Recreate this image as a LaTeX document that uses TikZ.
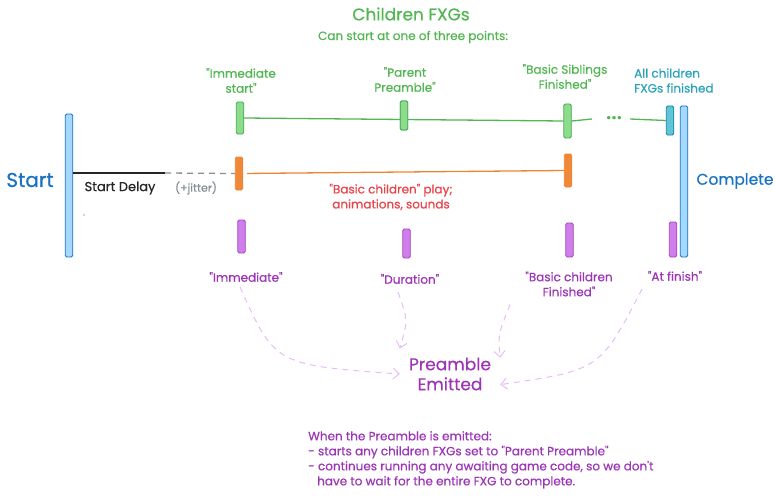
\documentclass[tikz,border=0pt]{standalone}
\usepackage{fontspec}
\setmainfont{Poppins}[Ligatures=TeXOff, FakeBold=0.6]
\usepackage{tikz}
\usetikzlibrary{arrows.meta, positioning, calc}
\definecolor{blueFg}{HTML}{1971C2}
\definecolor{blueBg}{HTML}{A5D8FF}
\definecolor{greenFg}{HTML}{40A952}
\definecolor{greenBg}{HTML}{8CDC8C}
\definecolor{greenText}{HTML}{52B752}
\definecolor{tealFg}{HTML}{0C8599}
\definecolor{tealBg}{HTML}{62C4D8}
\definecolor{tealText}{HTML}{2AA2BA}
\definecolor{orangeFg}{HTML}{EE8432}
\definecolor{orangeBg}{HTML}{F0883A}
\definecolor{redText}{HTML}{E8444A}
\definecolor{purpleFg}{HTML}{A643C2}
\definecolor{purpleBg}{HTML}{CF7EEB}
\definecolor{purpleText}{HTML}{9C36B5}
\definecolor{arrowPurple}{HTML}{E6BDF6}
\definecolor{jitterGray}{HTML}{868E96}
\tikzstyle{line} = [line width=1.3pt]
\tikzstyle{arrow} = [line width=1pt, dash pattern=on 6pt off 5pt, draw=arrowPurple, -{Straight Barb[length=6pt,width=11pt]}]
\tikzstyle{bar} = [rectangle, rounded corners=1.5pt, minimum width=7.5pt, inner sep=0pt, line width=0.9pt]
\tikzstyle{bluestyle} = [draw=blueFg, fill=blueBg]
\tikzstyle{greenstyle} = [draw=greenFg, fill=greenBg]
\tikzstyle{tealstyle} = [draw=tealFg, fill=tealBg]
\tikzstyle{orangestyle} = [draw=orangeFg, fill=orangeBg]
\tikzstyle{purplestyle} = [draw=purpleFg, fill=purpleBg]
\tikzstyle{txt} = [font=\fontsize{12}{15}\selectfont, align=center, inner sep=0pt]
\tikzstyle{bigtxt} = [font=\fontsize{17}{20}\selectfont, align=center, inner sep=0pt]

\begin{document}
\begin{tikzpicture}[x=1pt, y=-1pt]
\useasboundingbox (0,0) rectangle (775,500);

% start / complete
\node (startBar) [bar, bluestyle, minimum height=143pt] at (69,185.5) {};
\node (completeBar) [bar, bluestyle, minimum height=151pt] at (684,181.5) {};
\node (startLbl) [bigtxt, text=blueFg, font=\fontsize{20}{22}\selectfont] at (30,180) {Start};
\node (completeLbl) [bigtxt, text=blueFg, font=\fontsize{15.5}{18}\selectfont] at (735,181) {Complete};

% children rows
\node (immStart) [bar, greenstyle, minimum height=32pt] at (240,118) {};
\node (parentPre) [bar, greenstyle, minimum height=29pt] at (404,115.5) {};
\node (sibDone) [bar, greenstyle, minimum height=34pt] at (567.5,121) {};
\node (allDone) [bar, tealstyle, minimum height=29pt] at (670,120.5) {};

\node (playStart) [bar, orangestyle, minimum height=33pt] at (239,173.5) {};
\node (playEnd) [bar, orangestyle, minimum height=33pt] at (568,170.5) {};

\node (pImm) [bar, purplestyle, minimum height=33pt] at (241.5,236.5) {};
\node (pDur) [bar, purplestyle, minimum height=29pt] at (406.5,243.5) {};
\node (pBasic) [bar, purplestyle, minimum height=34pt] at (569.5,240) {};
\node (pFin) [bar, purplestyle, minimum height=35pt] at (673,239.5) {};

% titles
\node (title) [bigtxt, text=greenText] at (411,14) {Children FXGs};
\node (subtitle) [txt, text=greenText] at (413,37) {Can start at one of three points:};

\node (immStartLbl) [txt, text=greenText] at (241,80.5) {"Immediate\\start"};
\node (parentPreLbl) [txt, text=greenText] at (405,79.5) {"Parent\\Preamble"};
\node (sibDoneLbl) [txt, text=greenText] at (565,76.5) {"Basic Siblings\\Finished"};
\node (allDoneLbl) [txt, text=tealText, align=left, anchor=west] at (634,80.5) {All children\\FXGs finished};

% green timeline
\coordinate (stubEnd) at (592,119);
\node (dots) [txt, text=greenText, font=\fontsize{13}{13}\selectfont] at (614,119) {\textbullet\textbullet\textbullet};
\draw [line, draw=greenText] (immStart.east) -- (sibDone.west);
\draw [line, draw=greenText] (sibDone.east) -- (stubEnd);
\draw [line, draw=greenText] ($(dots.east)+(8,0)$) -- (allDone.west);
\node (parentPreTop) [bar, greenstyle, minimum height=29pt] at (parentPre) {};

% start delay
\coordinate (delayEnd) at (165,173);
\draw [line, draw=black!85] (delayEnd -| startBar.east) -- (delayEnd);
\draw [line, draw=jitterGray, dash pattern=on 6pt off 5pt] (delayEnd) -- (playStart.west);
\node (delayLbl) [txt, text=black!85, font=\fontsize{13}{15}\selectfont] at (120,188) {Start Delay};
\node (jitterLbl) [txt, text=jitterGray, font=\fontsize{11}{13}\selectfont] at (196,188) {(+jitter)};
\node (stray) [txt, text=black!60, font=\fontsize{8}{8}\selectfont] at (84,215) {.};

% basic children play
\draw [line, draw=orangeFg, shorten <=4pt] (playStart.east) -- (playEnd.west);
\node (playLbl) [txt, text=redText] at (391,197) {"Basic children" play;\\animations, sounds};

% preamble points
\node (pImmLbl) [txt, text=purpleText] at (246,277) {"Immediate"};
\node (pDurLbl) [txt, text=purpleText] at (410,279) {"Duration"};
\node (pBasicLbl) [txt, text=purpleText] at (569,284) {"Basic children\\Finished"};
\node (pFinLbl) [txt, text=purpleText] at (675,276) {"At finish"};

\node (preamble) [bigtxt, text=purpleText, inner sep=9pt] at (450,374) {Preamble\\Emitted};

\draw [arrow] ($(pImmLbl.south)+(-6,5)$) .. controls (275,365) .. (preamble.west);
\draw [arrow] ($(pDurLbl.south)+(-12,8)$) .. controls (408,320) .. (preamble.north west);
\draw [arrow] ($(pBasicLbl.south)+(-59,8)$) .. controls (498,335) .. (preamble.18);
\draw [arrow] ($(pFinLbl.south)+(-33,8)$) .. controls (600,370) .. (preamble.-12);

% note
\node (note) [txt, text=purpleText, align=left, anchor=north west] at (308,431) {When the Preamble is emitted:\\
- starts any children FXGs set to "Parent Preamble"\\
- continues running any awaiting game code, so we don't\\
\hspace*{9pt}have to wait for the entire FXG to complete.};

\end{tikzpicture}
\end{document}
